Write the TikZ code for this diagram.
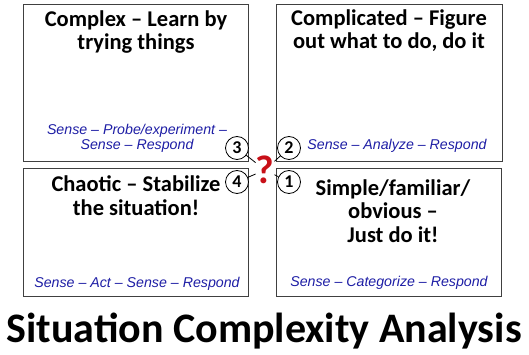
\documentclass[tikz,border=0pt]{standalone}
\usepackage{fontspec}
\setmainfont{Carlito}
\newfontfamily\recipefont[Ligatures=TeX]{Liberation Sans}
\definecolor{recipeblue}{RGB}{30,30,165}
\definecolor{qred}{RGB}{200,16,24}

\begin{document}
\begin{tikzpicture}[x=1pt,y=-1pt,
  quad/.style={shape=rectangle, draw=black!75, line width=0.8pt, inner sep=0},
  head/.style={font=\bfseries\fontsize{22.5}{23.5}\selectfont, align=center, anchor=base, inner sep=0},
  recipe/.style={font=\recipefont\itshape\fontsize{14.2}{15}\selectfont, text=recipeblue, align=center, anchor=base, inner sep=0},
  num/.style={shape=circle, draw, line width=0.8pt, minimum size=23pt, inner sep=0, fill=white, font=\bfseries\fontsize{18}{18}\selectfont}]
\useasboundingbox (0,0) rectangle (529,355);

% the four quadrants
\path (135.5,83) node (complex) [quad, minimum width=225pt, minimum height=157pt] {};
\path (389,83) node (complicated) [quad, minimum width=226pt, minimum height=157pt] {};
\path (135.5,232) node (chaotic) [quad, minimum width=225pt, minimum height=128pt] {};
\path (388.5,232) node (simple) [quad, minimum width=225pt, minimum height=128pt] {};

% base = last line
\path (136,50) node (complexhead) [head] {Complex -- Learn by\\trying things};
\path (389,49) node (complicatedhead) [head] {Complicated -- Figure\\out what to do, do it};
\path (136,215) node (chaotichead) [head] {Chaotic -- Stabilize\\the situation!};
\path (393,242) node (simplehead) [head] {Simple/familiar/\\obvious --\\Just do it!};

\path (137,150) node (complexrecipe) [recipe] {Sense -- Probe/experiment --\\Sense -- Respond};
\path (397,150) node (complicatedrecipe) [recipe] {Sense -- Analyze -- Respond};
\path (137,287) node (chaoticrecipe) [recipe] {Sense -- Act -- Sense -- Respond};
\path (389,286) node (simplerecipe) [recipe] {Sense -- Categorize -- Respond};

% numbers round the question mark
\path (265,170) node (qm) [inner sep=0, text=qred, font=\bfseries\fontsize{40}{40}\selectfont] {?};
\path (237,148) node (n3) [num] {3};
\path (289,148) node (n2) [num] {2};
\path (237,182) node (n4) [num] {4};
\path (289,182) node (n1) [num] {1};

\draw [line width=0.8pt] (n3) to (qm);
\draw [line width=0.8pt] (n2) to (qm);
\draw [line width=0.8pt] (n4) to (qm);
\draw [line width=0.8pt] (n1) to (qm);

\path (264,342) node (title) [anchor=base, inner sep=0, font=\bfseries\fontsize{42}{42}\selectfont] {Situation Complexity Analysis};

\end{tikzpicture}
\end{document}
